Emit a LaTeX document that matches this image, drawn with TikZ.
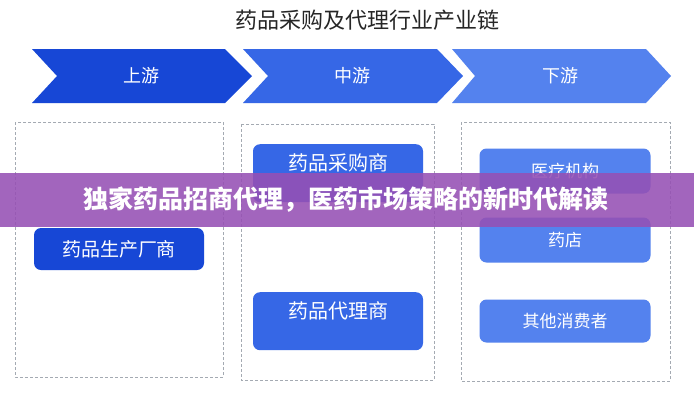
\documentclass[tikz,border=0pt]{standalone}
\usepackage{fontspec}
\setmainfont{Noto Sans CJK SC}
\newfontfamily\cjk{Noto Sans CJK SC}
\usepackage{tikz}
\usetikzlibrary{positioning}
\usepackage{xcolor}
\definecolor{upblue}{HTML}{1747D6}
\definecolor{midblue}{HTML}{3667E6}
\definecolor{downblue}{HTML}{5482EE}
\definecolor{framegray}{HTML}{A4AAB2}
\definecolor{bannerpurple}{HTML}{9650B4}

\begin{document}
\begin{tikzpicture}[x=1pt, y=-1pt,
    chevtext/.style={text=white, font=\cjk\fontsize{18}{18}\selectfont},
    stage/.style={draw=framegray, densely dashed, line width=0.5pt},
    midbox/.style={fill=midblue, rounded corners=7pt, text=white, inner sep=0pt,
        minimum width=170pt, text height=26pt, text depth=32pt,
        font=\cjk\fontsize{20}{20}\selectfont},
    downbox/.style={fill=downblue, rounded corners=7pt, text=white, inner sep=0pt,
        minimum width=171pt, minimum height=45pt,
        font=\cjk\fontsize{17}{17}\selectfont}]
        \useasboundingbox (0,0) rectangle (694,400);
        \fill[white] (0,0) rectangle (694,400);

        % Title
        \node[font=\cjk\fontsize{22}{22}\selectfont, text=black!85] (title) at (367,20) {药品采购及代理行业产业链};

        % Chevrons
        \fill[upblue]   (32,49) -- (225,49) -- (252,76) -- (225,103) -- (32,103) -- (57,76) -- cycle;
        \fill[midblue]  (243,49) -- (437,49) -- (463,76) -- (437,103) -- (243,103) -- (268,76) -- cycle;
        \fill[downblue] (452,49) -- (646,49) -- (671,76) -- (646,103) -- (452,103) -- (475,76) -- cycle;
        \node[chevtext] (up)   at (141,76) {上游};
        \node[chevtext] (mid)  at (352,76) {中游};
        \node[chevtext] (down) at (560,76) {下游};

        % Stage frames
        \draw[stage] (15,122) rectangle (223,377);
        \draw[stage] (241,124) rectangle (434,380);
        \draw[stage] (461,122) rectangle (670,381);

        % Upstream
        \node[fill=upblue, rounded corners=7pt, text=white, minimum width=170pt, minimum height=42pt,
              font=\cjk\fontsize{19}{19}\selectfont] (maker) at (119,249) {药品生产厂商};

        % Midstream
        \node[midbox, anchor=north] (buyer) at (338,144) {药品采购商};
        \node[midbox, anchor=north] (agent) at (338,292) {药品代理商};

        % Downstream
        \node[downbox] (hospital) at (565,171) {医疗机构};
        \node[downbox] (pharmacy) at (565,240) {药店};
        \node[downbox, minimum height=43pt] (consumer) at (565,321) {其他消费者};

        % Banner
        \fill[bannerpurple, opacity=0.88] (0,173) rectangle (694,227);
        \node[text=white, font=\cjk\bfseries\fontsize{25}{25}\selectfont] (headline) at (346,200)
            {独家药品招商代理，医药市场策略的新时代解读};
    \end{tikzpicture}
\end{document}
